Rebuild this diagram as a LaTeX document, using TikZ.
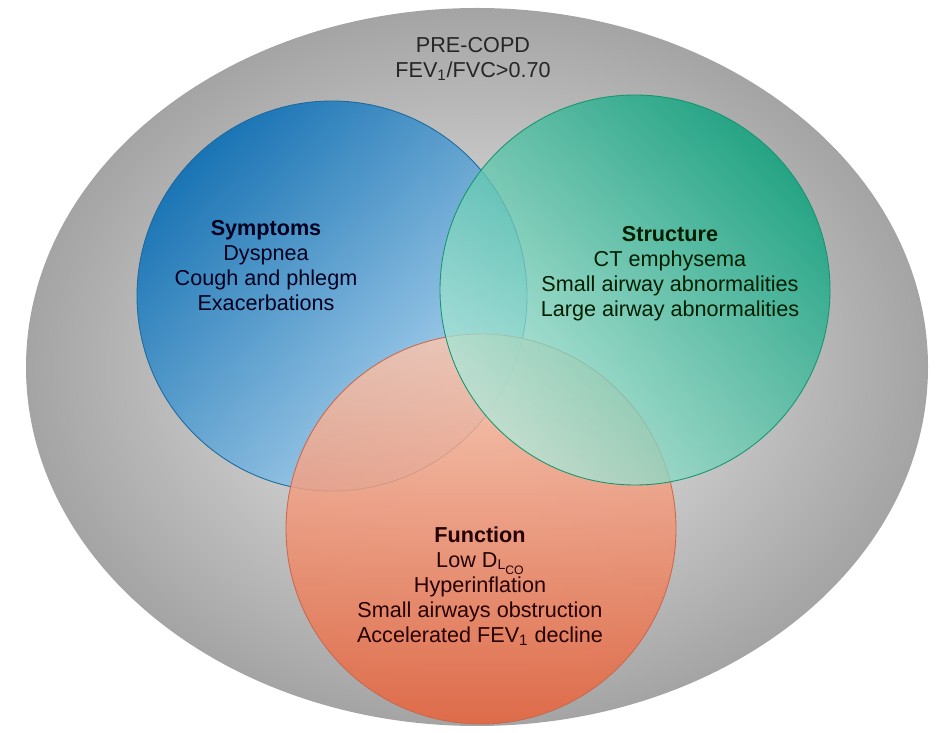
\documentclass[tikz,border=0pt]{standalone}
\usepackage{fontspec}
\setmainfont{Liberation Sans}
\usetikzlibrary{shapes.geometric}

\definecolor{copdin}{HTML}{F0F0F0}
\definecolor{copdout}{HTML}{A4A4A4}
\definecolor{sympdark}{HTML}{0A6EB5}
\definecolor{symplight}{HTML}{B0D7F2}
\definecolor{sympedge}{HTML}{1C6A9E}
\definecolor{strudark}{HTML}{00A27A}
\definecolor{strulight}{HTML}{B2E8DA}
\definecolor{struedge}{HTML}{169670}
\definecolor{functop}{HTML}{F8C6B0}
\definecolor{funcbot}{HTML}{E8623A}
\definecolor{funcedge}{HTML}{C9694F}

\begin{document}
\begin{tikzpicture}[
  ring/.style={circle, minimum size=7.8cm, inner sep=0pt, line width=0.5pt},
  lbl/.style={align=center, inner sep=0pt, font=\fontsize{12.3}{14.2}\selectfont},
]
\useasboundingbox (0,0) rectangle (18.8,14.64);

% outer pre-COPD field
\node[ellipse, minimum width=18.04cm, minimum height=14.36cm, inner sep=0pt,
      inner color=copdin, outer color=copdout] (copd) at (9.54,7.30) {};

% the three domains
\node[ring, draw=sympedge, fill opacity=0.9, top color=sympdark, bottom color=symplight,
      shading angle=45] (symp) at (6.64,8.72) {};
\node[ring, draw=funcedge, fill opacity=0.85, top color=functop, bottom color=funcbot]
      (func) at (9.62,4.06) {};
\node[ring, draw=struedge, fill opacity=0.78, top color=strudark, bottom color=strulight,
      shading angle=-45] (stru) at (12.70,8.84) {};

% labels
\node[lbl, text=black!85] (copdlbl) at (9.46,13.46) {PRE-COPD\\FEV\textsubscript{1}/FVC>0.70};
\node[lbl, text=black!88!blue] (sympt) at (5.32,9.33)
  {\textbf{Symptoms}\\Dyspnea\\Cough and phlegm\\Exacerbations};
\node[lbl, text=black!88!green] (strut) at (13.40,9.17)
  {\textbf{Structure}\\CT emphysema\\Small airway abnormalities\\Large airway abnormalities};
\node[lbl, text=black!85!red] (funct) at (9.60,2.91)
  {\textbf{Function}\\Low D\raisebox{-0.15ex}{\footnotesize L}\raisebox{-0.55ex}{\scriptsize CO}\\Hyperinflation\\Small airways obstruction\\Accelerated FEV\textsubscript{1} decline};
\end{tikzpicture}
\end{document}
